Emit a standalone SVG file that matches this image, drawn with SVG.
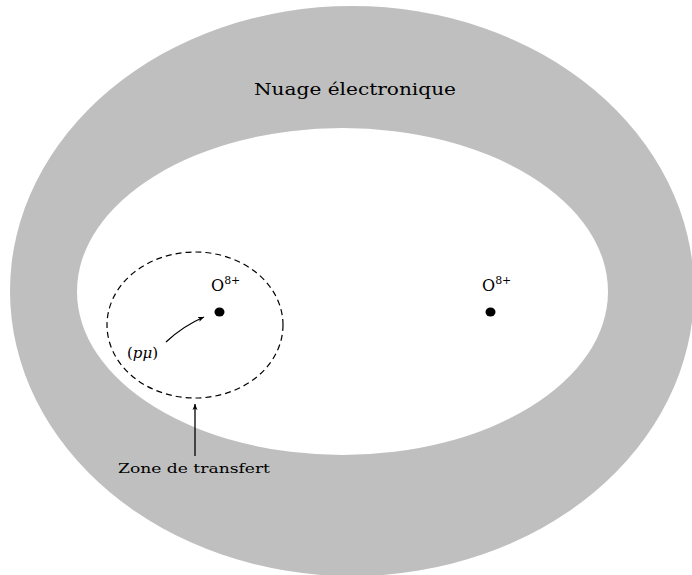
<svg xmlns="http://www.w3.org/2000/svg" width="692" height="575" viewBox="0 0 692 575">
<style>
text{font-family:"DejaVu Serif","Liberation Serif",serif;fill:#000}
.dash{fill:none;stroke:#000;stroke-width:1.2;stroke-dasharray:6,4}
.ln{fill:none;stroke:#000;stroke-width:1.3}
</style>
<defs>
<marker id="ah" markerWidth="8" markerHeight="8" refX="6" refY="3" orient="auto" markerUnits="userSpaceOnUse">
<path d="M0,0.5 L6,3 L0,5.5 L1.5,3 Z" fill="#000"/>
</marker>
</defs>
<rect width="692" height="575" fill="#fff"/>
<g id="nuage">
<ellipse cx="352" cy="291" rx="342" ry="285" fill="#bfbfbf"/>
<ellipse cx="342.5" cy="291.5" rx="265.5" ry="163.5" fill="#fff"/>
<text x="355" y="95" font-size="17" text-anchor="middle" textLength="202" lengthAdjust="spacingAndGlyphs">Nuage électronique</text>
</g>
<g id="zone">
<ellipse class="dash" cx="195" cy="325" rx="88" ry="73"/>
<text x="194" y="473" font-size="13.5" text-anchor="middle" textLength="152" lengthAdjust="spacingAndGlyphs">Zone de transfert</text>
</g>
<g id="o1">
<ellipse cx="219.5" cy="312" rx="5" ry="4.5" fill="#000"/>
<text x="211" y="291" font-size="16">O<tspan dy="-7" font-size="11">8+</tspan></text>
</g>
<g id="o2">
<ellipse cx="490.5" cy="312" rx="5" ry="4.5" fill="#000"/>
<text x="482" y="291" font-size="16">O<tspan dy="-7" font-size="11">8+</tspan></text>
</g>
<g id="pmu">
<text x="127" y="358" font-size="15">(<tspan font-style="italic">pμ</tspan>)</text>
</g>
<g id="connectors">
<path class="ln" d="M166,342 Q183,326 204,317" marker-end="url(#ah)"/>
<path class="ln" d="M195,456 L195,404" marker-end="url(#ah)"/>
</g>
</svg>
